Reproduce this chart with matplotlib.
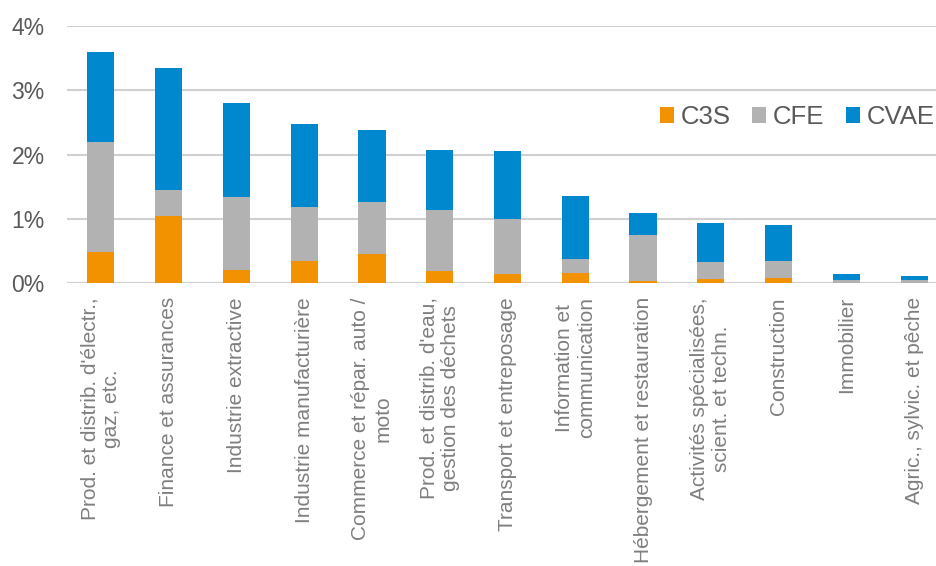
import matplotlib.pyplot as plt
import numpy as np
from matplotlib.ticker import FuncFormatter

plt.rcParams['font.family'] = ['Liberation Sans', 'DejaVu Sans']

secteurs = [
    "Prod. et distrib. d'électr.,\ngaz, etc.",
    "Finance et assurances",
    "Industrie extractive",
    "Industrie manufacturière",
    "Commerce et répar. auto /\nmoto",
    "Prod. et distrib. d'eau,\ngestion des déchets",
    "Transport et entreposage",
    "Information et\ncommunication",
    "Hébergement et restauration",
    "Activités spécialisées,\nscient. et techn.",
    "Construction",
    "Immobilier",
    "Agric., sylvic. et pêche",
]

# taux en % de la valeur ajoutée
c3s = [0.48, 1.05, 0.21, 0.34, 0.46, 0.19, 0.15, 0.16, 0.03, 0.06, 0.09, 0.005, 0.005]
cfe = [1.72, 0.40, 1.13, 0.85, 0.80, 0.95, 0.85, 0.21, 0.72, 0.27, 0.26, 0.05, 0.045]
cvae = [1.39, 1.89, 1.47, 1.28, 1.13, 0.94, 1.05, 0.98, 0.35, 0.61, 0.56, 0.085, 0.06]

orange = '#F39200'
gris = '#B2B2B2'
bleu = '#0088CE'

fig = plt.figure(figsize=(9.36, 5.66), dpi=100)
ax = fig.add_axes([67 / 936, 1 - 283.3 / 566, 881 / 936, 257.3 / 566])

x = np.arange(len(secteurs))
w = 0.4
c3s = np.array(c3s)
cfe = np.array(cfe)
cvae = np.array(cvae)

ax.bar(x, c3s, w, color=orange, label='C3S', zorder=3)
ax.bar(x, cfe, w, bottom=c3s, color=gris, label='CFE', zorder=3)
ax.bar(x, cvae, w, bottom=c3s + cfe, color=bleu, label='CVAE', zorder=3)

ax.set_xlim(-0.5, len(secteurs) - 0.5)
ax.set_ylim(0, 4)
ax.set_yticks([0, 1, 2, 3, 4])
ax.yaxis.set_major_formatter(FuncFormatter(lambda v, p: f'{v:.0f}%'))
ax.grid(axis='y', color='#D0D0D0', linewidth=1.5, zorder=0)
ax.set_axisbelow(True)
for s in ax.spines.values():
    s.set_visible(False)
ax.axhline(0, color='#D0D0D0', linewidth=1.5, zorder=2)

ax.tick_params(axis='y', length=0, pad=16, labelsize=16.5, labelcolor='#595959')
ax.tick_params(axis='x', length=0, pad=10)
ax.set_xticks(x)
ax.set_xticklabels(secteurs, rotation=90, fontsize=15, color='#7F7F7F',
                   va='top', ha='center', multialignment='center')

ax.legend(loc='upper right', bbox_to_anchor=(0.9965, 0.732), ncol=3, frameon=False,
          fontsize=18.5, labelcolor='#595959', handlelength=0.55, handleheight=0.55,
          handletextpad=0.25, columnspacing=0.85, borderaxespad=0)

fig.savefig('out.png', dpi=100)
